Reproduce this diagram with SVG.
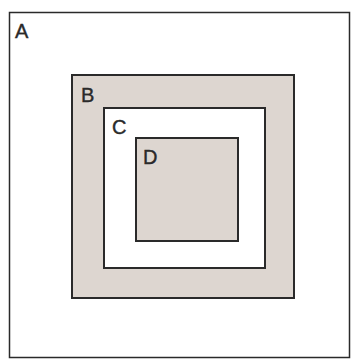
<svg xmlns="http://www.w3.org/2000/svg" width="357" height="359" viewBox="0 0 357 359">
<style>
.box{stroke:#2a2a2a;stroke-width:2}
.shade{fill:#ddd6d0}
.white{fill:#ffffff}
.lbl{font-family:"Liberation Sans",Arial,sans-serif;font-size:20px;fill:#2a2a2a;stroke:#2a2a2a;stroke-width:0.4}
</style>
<rect width="357" height="359" fill="#ffffff"/>
<g id="A">
<rect x="9.5" y="12.5" width="340" height="345" fill="#ffffff" stroke="#2a2a2a" stroke-width="1.5"/>
<text class="lbl" x="15" y="38">A</text>
</g>
<g id="B">
<rect class="box shade" x="72" y="75" width="222" height="223"/>
<text class="lbl" x="81" y="102">B</text>
</g>
<g id="C">
<rect class="box white" x="104" y="108" width="161" height="160"/>
<text class="lbl" x="112" y="134">C</text>
</g>
<g id="D">
<rect class="box shade" x="136" y="138" width="102" height="103"/>
<text class="lbl" x="143" y="164">D</text>
</g>
</svg>
